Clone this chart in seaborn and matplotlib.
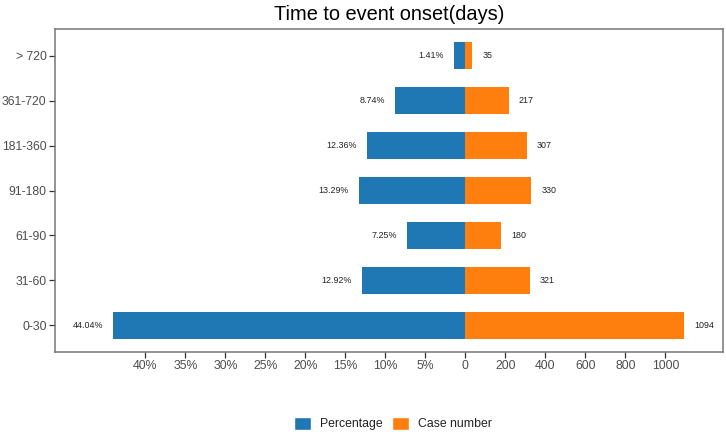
import matplotlib
matplotlib.use("Agg")
import matplotlib.pyplot as plt
from matplotlib.patches import Patch
import seaborn as sns
import pandas as pd
import numpy as np

categories = ["> 720", "361-720", "181-360", "91-180", "61-90", "31-60", "0-30"]
percentages = [1.41, 8.74, 12.36, 13.29, 7.25, 12.92, 44.04]
cases = [35, 217, 307, 330, 180, 321, 1094]
series_names = ["Percentage", "Case number"]
colors = ["#1F77B4", "#FF7F0E"]
left_ticks = [40, 35, 30, 25, 20, 15, 10, 5]
right_ticks = [0, 200, 400, 600, 800, 1000]

SCALE = 40  # 1% drawn as 40 cases on the shared axis

sns.set_theme(style="white")
plt.rcParams["font.family"] = ["Liberation Sans", "DejaVu Sans"]

rows = []
for c, p, n in zip(categories, percentages, cases):
    rows.append({"cat": c, "x": -p * SCALE, "type": series_names[0]})
    rows.append({"cat": c, "x": n, "type": series_names[1]})
df = pd.DataFrame(rows)

fig = plt.figure(figsize=(7.26, 4.34), dpi=100)
ax = fig.add_axes([55 / 726, 1 - 352 / 434, (723 - 55) / 726, (352 - 29) / 434])

sns.barplot(data=df, y="cat", x="x", hue="type", order=categories,
            hue_order=series_names, palette=colors, dodge=False,
            orient="h", width=0.6, ax=ax, legend=False, saturation=1,
            linewidth=0)

for i, (p, n) in enumerate(zip(percentages, cases)):
    ax.annotate(f"{p:.2f}%", xy=(-p * SCALE, i), xytext=(-7.2, 0),
                textcoords="offset points", ha="right", va="center",
                fontsize=6.4, color="#222222")
    ax.annotate(f"{n}", xy=(n, i), xytext=(7.2, 0),
                textcoords="offset points", ha="left", va="center",
                fontsize=6.4, color="#222222")

tick_pos = [-t * SCALE for t in left_ticks] + right_ticks
tick_lab = [f"{t}%" for t in left_ticks] + [str(t) for t in right_ticks]
ax.set_xticks(tick_pos)
ax.set_xticklabels(tick_lab)
ax.set_xlim(-2052, 1288)
ax.set_ylim(6.6, -0.6)
ax.set_xlabel("")
ax.set_ylabel("")

ax.tick_params(axis="both", which="both", length=4, width=0.9,
               color="#333333", labelsize=8.8, labelcolor="#4D4D4D",
               pad=2, bottom=True, left=True)
for s in ax.spines.values():
    s.set_color("#777777")
    s.set_linewidth(1.1)
    s.set_visible(True)

fig.text(389 / 726, 1 - 14.5 / 434, "Time to event onset(days)", ha="center",
         va="center", fontsize=14.4, color="black")

handles = [Patch(facecolor=colors[0]), Patch(facecolor=colors[1])]
fig.legend(handles, series_names, loc="center", ncol=2, frameon=False,
           bbox_to_anchor=(393 / 726, 1 - 423.5 / 434), fontsize=8.8,
           handlelength=1.36, handleheight=1.36, handletextpad=0.73,
           columnspacing=0.8, labelcolor="#222222")

fig.savefig("out.png", dpi=100)
